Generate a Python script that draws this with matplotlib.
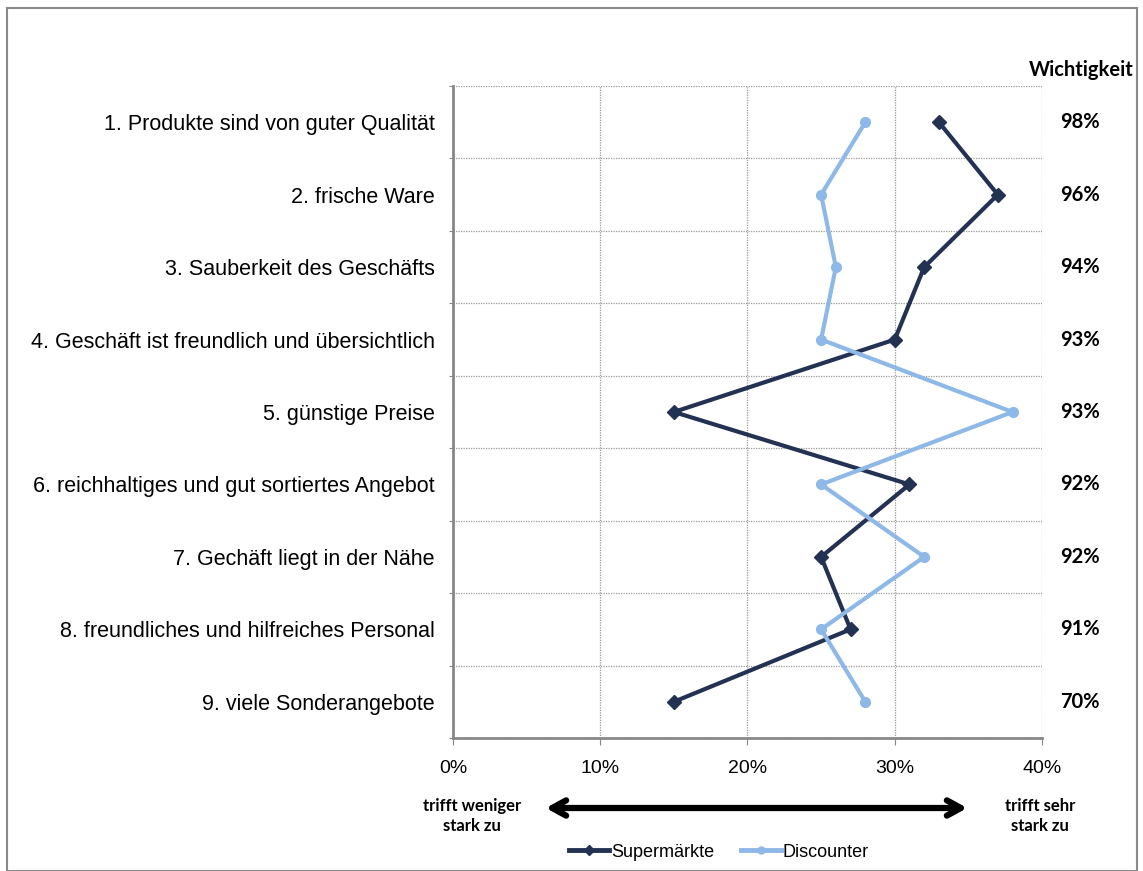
import matplotlib.pyplot as plt
from matplotlib.lines import Line2D
from matplotlib.patches import Rectangle

# Aussagen zur Einkaufsstätte und Anteil "trifft sehr stark zu"
aussagen = [
    "1. Produkte sind von guter Qualität",
    "2. frische Ware",
    "3. Sauberkeit des Geschäfts",
    "4. Geschäft ist freundlich und übersichtlich",
    "5. günstige Preise",
    "6. reichhaltiges und gut sortiertes Angebot",
    "7. Gechäft liegt in der Nähe",
    "8. freundliches und hilfreiches Personal",
    "9. viele Sonderangebote",
]
supermaerkte = [33, 37, 32, 30, 15, 31, 25, 27, 15]
discounter = [28, 25, 26, 25, 38, 25, 32, 25, 28]
wichtigkeit = [98, 96, 94, 93, 93, 92, 92, 91, 70]
x_ticks = [0, 10, 20, 30, 40]

W, H = 1143, 871
fig = plt.figure(figsize=(W / 100, H / 100), dpi=100)
ax = fig.add_axes([453 / W, 1 - 738 / H, (1042 - 453) / W, (738 - 86) / H])

pos = list(range(len(aussagen)))
navy = "#233152"
hellblau = "#8DB8E8"

ax.plot(supermaerkte, pos, color=navy, lw=3, marker="D", ms=7, label="Supermärkte", zorder=3)
ax.plot(discounter, pos, color=hellblau, lw=3, marker="o", ms=7, label="Discounter", zorder=3)

ax.set_xlim(0, 40)
ax.set_ylim(len(aussagen) - 0.5, -0.5)

# Raster: gepunktete Linien zwischen den Aussagen und bei jeden 10 %
ax.set_yticks([p - 0.5 for p in pos] + [len(aussagen) - 0.5])
ax.set_yticklabels([])
ax.set_yticks(pos, minor=True)
ax.set_yticklabels(aussagen, minor=True, fontsize=15.5, family="Liberation Sans")
ax.tick_params(axis="y", which="minor", length=0, pad=13)
ax.tick_params(axis="y", which="major", length=3, color="#888888", direction="out")

ax.set_xticks(x_ticks)
ax.set_xticklabels([f"{v}%" for v in x_ticks], fontsize=14, family="Liberation Sans")
ax.tick_params(axis="x", length=5, color="#888888", pad=11)

ax.grid(True, which="major", color="#9a9a9a", linestyle=(0, (1, 1)), lw=0.9)
for s in ["top", "right"]:
    ax.spines[s].set_visible(False)
for s in ["left", "bottom"]:
    ax.spines[s].set_color("#888888")
    ax.spines[s].set_linewidth(2)

# Wichtigkeit rechts neben der Grafik (x in Pixeln der Figur, y je Aussage)
fig.text(1081 / W, 1 - 70 / H, "Wichtigkeit", ha="center", va="center",
         fontsize=14.5, fontweight="bold", family="Lato")
x_wicht = (1080 - 453) / (1042 - 453)
for p, w in zip(pos, wichtigkeit):
    ax.text(x_wicht, p, f"{w}%", transform=ax.get_yaxis_transform(),
            ha="center", va="center", fontsize=14.5, fontweight="bold", family="Lato")

# Rahmen um die ganze Grafik
fig.patches.append(Rectangle((7 / W, 0), (1137 - 7) / W, 1 - 8 / H, transform=fig.transFigure,
                             fill=False, edgecolor="#8a8a8a", lw=1.5))

# Pfeil unter der x-Achse
ax.annotate("", xy=(970 / W, 1 - 808 / H), xytext=(543 / W, 1 - 808 / H),
            xycoords="figure fraction", textcoords="figure fraction",
            arrowprops=dict(arrowstyle="<->,head_length=1.0,head_width=0.55", lw=4.5, color="black"))
fig.text(472 / W, 1 - 816 / H, "trifft weniger\nstark zu", ha="center", va="center",
         fontsize=12, fontweight="bold", family="Lato", linespacing=1.35)
fig.text(1040 / W, 1 - 816 / H, "trifft sehr\nstark zu", ha="center", va="center",
         fontsize=12, fontweight="bold", family="Lato", linespacing=1.35)

handles = [
    Line2D([], [], color=navy, lw=3.5, marker="D", ms=5),
    Line2D([], [], color=hellblau, lw=3.5, marker="o", ms=5),
]
fig.legend(handles, ["Supermärkte", "Discounter"], loc="center",
           bbox_to_anchor=(719 / W, 1 - 852 / H), ncol=2, frameon=False,
           prop={"family": "Liberation Sans", "size": 13},
           handlelength=2.2, handletextpad=0.1, columnspacing=1.5)

fig.savefig("out.png", dpi=100)
